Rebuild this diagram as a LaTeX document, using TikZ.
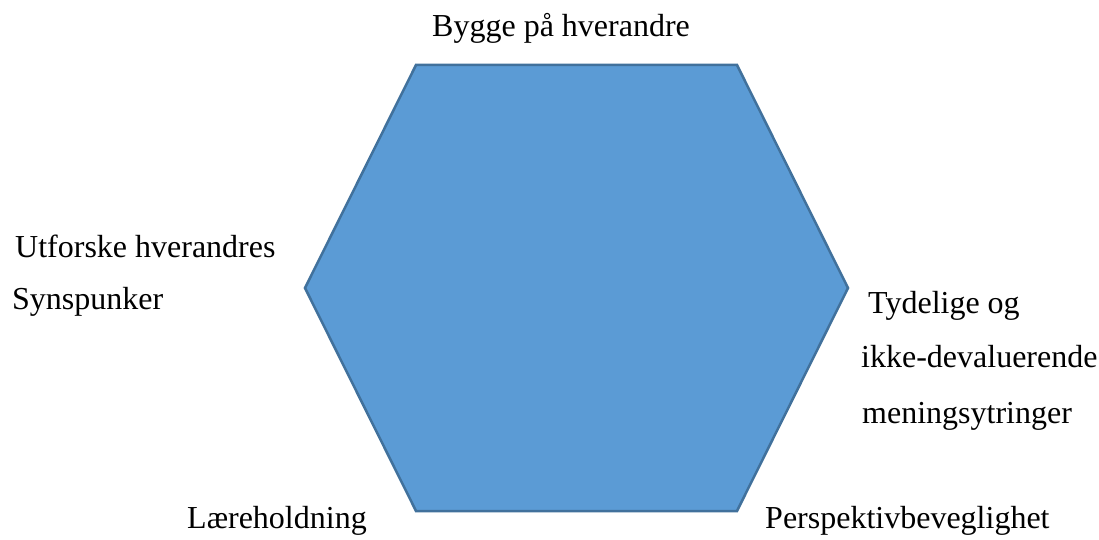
\documentclass[tikz,border=0pt]{standalone}
\usepackage{fontspec}
\setmainfont{Liberation Serif}
\definecolor{hexfill}{HTML}{5B9BD5}
\definecolor{hexline}{HTML}{41719C}
\begin{document}
\begin{tikzpicture}[x=1pt,y=-1pt,
  lbl/.style={inner sep=0pt,anchor=base west,font=\fontsize{32}{36}\selectfont}]
\useasboundingbox (0,0) rectangle (1099,540);
\coordinate (tl) at (416,65);
\coordinate (tr) at (737,65);
\coordinate (r) at (848,288);
\coordinate (br) at (737,511);
\coordinate (bl) at (416,511);
\coordinate (l) at (305,288);
\draw[fill=hexfill,draw=hexline,line width=2.5pt,line join=miter] (tl) -- (tr) -- (r) -- (br) -- (bl) -- (l) -- cycle;
\node[lbl] (top) at (432,37) {Bygge på hverandre};
\node[lbl] (left1) at (15,257) {Utforske hverandres};
\node[lbl] (left2) at (12,309) {Synspunker};
\node[lbl] (right1) at (868,313) {Tydelige og};
\node[lbl] (right2) at (861,367) {ikke-devaluerende};
\node[lbl] (right3) at (862,423) {meningsytringer};
\node[lbl] (botl) at (187,528) {Læreholdning};
\node[lbl] (botr) at (765,528) {Perspektivbeveglighet};
\end{tikzpicture}
\end{document}
